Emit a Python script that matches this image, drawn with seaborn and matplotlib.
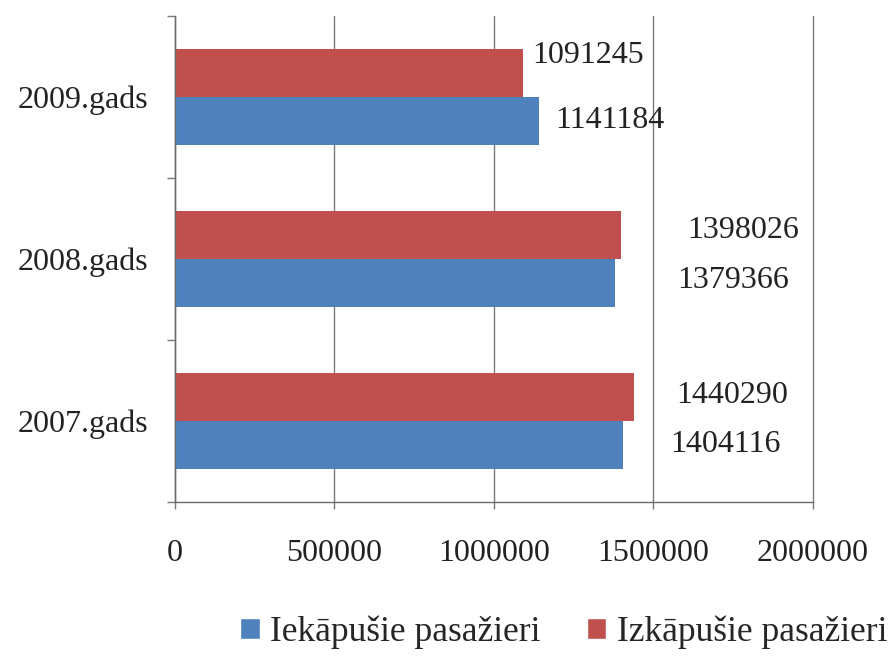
import matplotlib
matplotlib.use("Agg")
import matplotlib.pyplot as plt
import seaborn as sns
import pandas as pd
from matplotlib.patches import Patch
from matplotlib.ticker import FixedLocator

# data
years = ["2009.gads", "2008.gads", "2007.gads"]
iekapusie = [1141184, 1379366, 1404116]
izkapusie = [1091245, 1398026, 1440290]
series = ["Iekāpušie pasažieri", "Izkāpušie pasažieri"]
x_ticks = [0, 500000, 1000000, 1500000, 2000000]

blue = "#4f81bd"
red = "#c0504d"

# label offsets (points) as placed in the original chart
red_offsets = [(6.5, 13), (48, 3), (30, 1.5)]
blue_offsets = [(11.5, 0.5), (45, 2), (34, 0.5)]

df = pd.DataFrame({
    "gads": years * 2,
    "pasazieri": iekapusie + izkapusie,
    "serija": [series[0]] * len(years) + [series[1]] * len(years),
})

sns.set_style("white")
plt.rcParams["font.family"] = ["Liberation Serif", "DejaVu Serif"]

fig = plt.figure(figsize=(8.96, 6.62), dpi=100)
ax = fig.add_axes([0.1953, 0.2417, 0.712, 0.7341])

sns.barplot(data=df, x="pasazieri", y="gads", hue="serija", order=years,
            hue_order=[series[1], series[0]],
            palette={series[0]: blue, series[1]: red},
            orient="h", width=0.59, saturation=1, legend=False,
            linewidth=0, ax=ax)

ax.set_axisbelow(True)
ax.xaxis.grid(True, color="#7a7a7a", lw=1)
ax.set_xlim(0, 2000000)
ax.set_xticks(x_ticks)
ax.set_xticklabels([str(t) for t in x_ticks])
ax.set_xlabel("")
ax.set_ylabel("")
for gl in ax.get_xgridlines():
    gl.set_clip_on(False)

ax.tick_params(axis="x", bottom=True, length=5, width=1, color="#7a7a7a",
               pad=22, labelsize=23, labelcolor="#222222")
ax.tick_params(axis="y", which="major", left=False, length=0, pad=19,
               labelsize=23, labelcolor="#222222")
ax.yaxis.set_minor_locator(FixedLocator([-0.5, 0.5, 1.5, 2.5]))
ax.tick_params(axis="y", which="minor", left=True, length=6, width=1,
               color="#7a7a7a")

sns.despine(ax=ax)
for side in ["left", "bottom"]:
    ax.spines[side].set_color("#6a6a6a")
    ax.spines[side].set_linewidth(1)

# value labels
for cont, offs in zip(ax.containers, [red_offsets, blue_offsets]):
    for bar, (dx, dy) in zip(cont, offs):
        w = bar.get_width()
        yc = bar.get_y() + bar.get_height() / 2
        ax.annotate(f"{int(round(w))}", xy=(w, yc), xytext=(dx, dy),
                    textcoords="offset points", ha="left", va="center",
                    fontsize=23, color="#222222")

handles = [Patch(facecolor=blue), Patch(facecolor=red)]
fig.legend(handles=handles, labels=series, loc="center left",
           bbox_to_anchor=(0.268, 0.045), ncol=2, frameon=False, fontsize=25.5,
           handlelength=0.55, handleheight=0.55, handletextpad=0.3,
           columnspacing=1.3, borderaxespad=0, borderpad=0)

fig.savefig("out.png", dpi=100, facecolor="white")
